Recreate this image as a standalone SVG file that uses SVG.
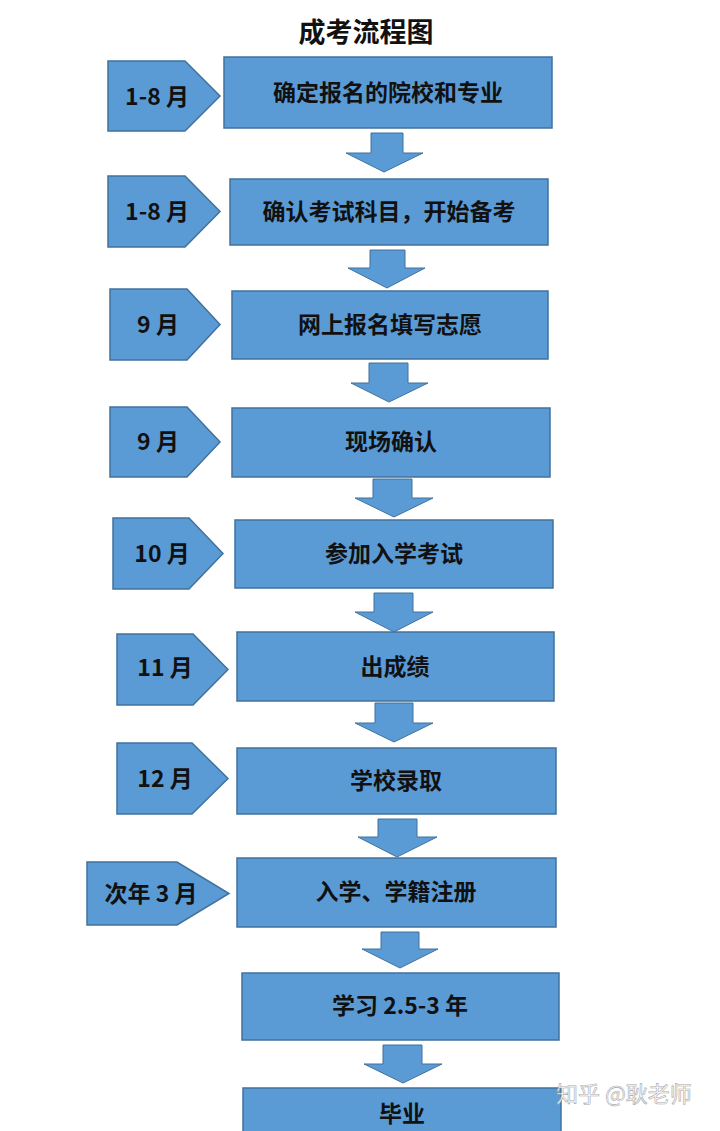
<svg xmlns="http://www.w3.org/2000/svg" width="720" height="1131" viewBox="0 0 720 1131">
<style>
.box{fill:#5B9BD5;stroke:#41719C;stroke-width:1.5}
.arr{fill:#5B9BD5;stroke:#41719C;stroke-width:1}
.t{font-family:"Noto Sans CJK SC","Noto Sans",sans-serif;font-weight:bold;font-size:23px;fill:#111;text-anchor:middle}
.m{font-family:"Noto Sans CJK SC","Noto Sans",sans-serif;font-weight:bold;font-size:23px;fill:#111;text-anchor:middle}
.title{font-family:"Noto Sans CJK SC",sans-serif;font-weight:bold;font-size:27px;fill:#111;text-anchor:middle}
.wm{font-family:"Noto Sans CJK SC",sans-serif;font-size:22px;fill:#fff;stroke:#999;stroke-width:0.6;opacity:0.85}
</style>
<rect width="720" height="1131" fill="#fff"/>
<text class="title" x="366" y="42">成考流程图</text>
<g id="connectors">
<polygon class="arr" points="371,133 403,133 403,153 423,153 384,172 346,153 371,153"/>
<polygon class="arr" points="370,250 405,250 405,268 425,268 387,288 348,268 370,268"/>
<polygon class="arr" points="369,363 408,363 408,383 428,383 389,402 351,383 369,383"/>
<polygon class="arr" points="373,479 412,479 412,498 433,498 394,517 355,498 373,498"/>
<polygon class="arr" points="374,593 413,593 413,612 433,612 394,632 355,612 374,612"/>
<polygon class="arr" points="375,703 413,703 413,723 433,723 394,742 355,723 375,723"/>
<polygon class="arr" points="378,819 417,819 417,837 437,837 397,857 358,837 378,837"/>
<polygon class="arr" points="381,932 419,932 419,949 438,949 400,968 362,949 381,949"/>
<polygon class="arr" points="383,1045 422,1045 422,1064 442,1064 403,1083 364,1064 383,1064"/>
</g>
<g id="m1"><polygon class="box" points="108,61 185,61 220,96 185,131 108,131"/><text class="m" x="157" y="105">1-8 月</text></g>
<g id="n1"><rect class="box" x="224" y="57" width="328" height="71"/><text class="t" x="388" y="101">确定报名的院校和专业</text></g>
<g id="m2"><polygon class="box" points="108,176 185,176 220,211.5 185,247 108,247"/><text class="m" x="157" y="220">1-8 月</text></g>
<g id="n2"><rect class="box" x="230" y="179" width="318" height="66"/><text class="t" x="389" y="220">确认考试科目，开始备考</text></g>
<g id="m3"><polygon class="box" points="110,289 187,289 220,324.5 187,360 110,360"/><text class="m" x="158" y="333">9 月</text></g>
<g id="n3"><rect class="box" x="232" y="291" width="316" height="68"/><text class="t" x="390" y="333">网上报名填写志愿</text></g>
<g id="m4"><polygon class="box" points="110,407 187,407 220,442 187,477 110,477"/><text class="m" x="158" y="450">9 月</text></g>
<g id="n4"><rect class="box" x="232" y="408" width="318" height="69"/><text class="t" x="391" y="450">现场确认</text></g>
<g id="m5"><polygon class="box" points="113,518 189,518 223,553.5 189,589 113,589"/><text class="m" x="162" y="562">10 月</text></g>
<g id="n5"><rect class="box" x="235" y="520" width="318" height="68"/><text class="t" x="394" y="562">参加入学考试</text></g>
<g id="m6"><polygon class="box" points="117,634 193,634 228,669.5 193,705 117,705"/><text class="m" x="165" y="676">11 月</text></g>
<g id="n6"><rect class="box" x="237" y="632" width="317" height="69"/><text class="t" x="395" y="675">出成绩</text></g>
<g id="m7"><polygon class="box" points="117,743 192,743 228,778.5 192,814 117,814"/><text class="m" x="165" y="787">12 月</text></g>
<g id="n7"><rect class="box" x="237" y="748" width="319" height="66"/><text class="t" x="396" y="789">学校录取</text></g>
<g id="m8"><polygon class="box" points="87,862 177,862 229,893.5 177,925 87,925"/><text class="m" x="151" y="902">次年 3 月</text></g>
<g id="n8"><rect class="box" x="237" y="858" width="319" height="69"/><text class="t" x="396" y="900">入学、学籍注册</text></g>
<g id="n9"><rect class="box" x="242" y="973" width="317" height="67"/><text class="t" x="400" y="1014">学习 2.5-3 年</text></g>
<g id="n10"><rect class="box" x="243" y="1088" width="318" height="60"/><text class="t" x="402" y="1122">毕业</text></g>
<text class="wm" x="556" y="1102">知乎 @耿老师</text>
</svg>
